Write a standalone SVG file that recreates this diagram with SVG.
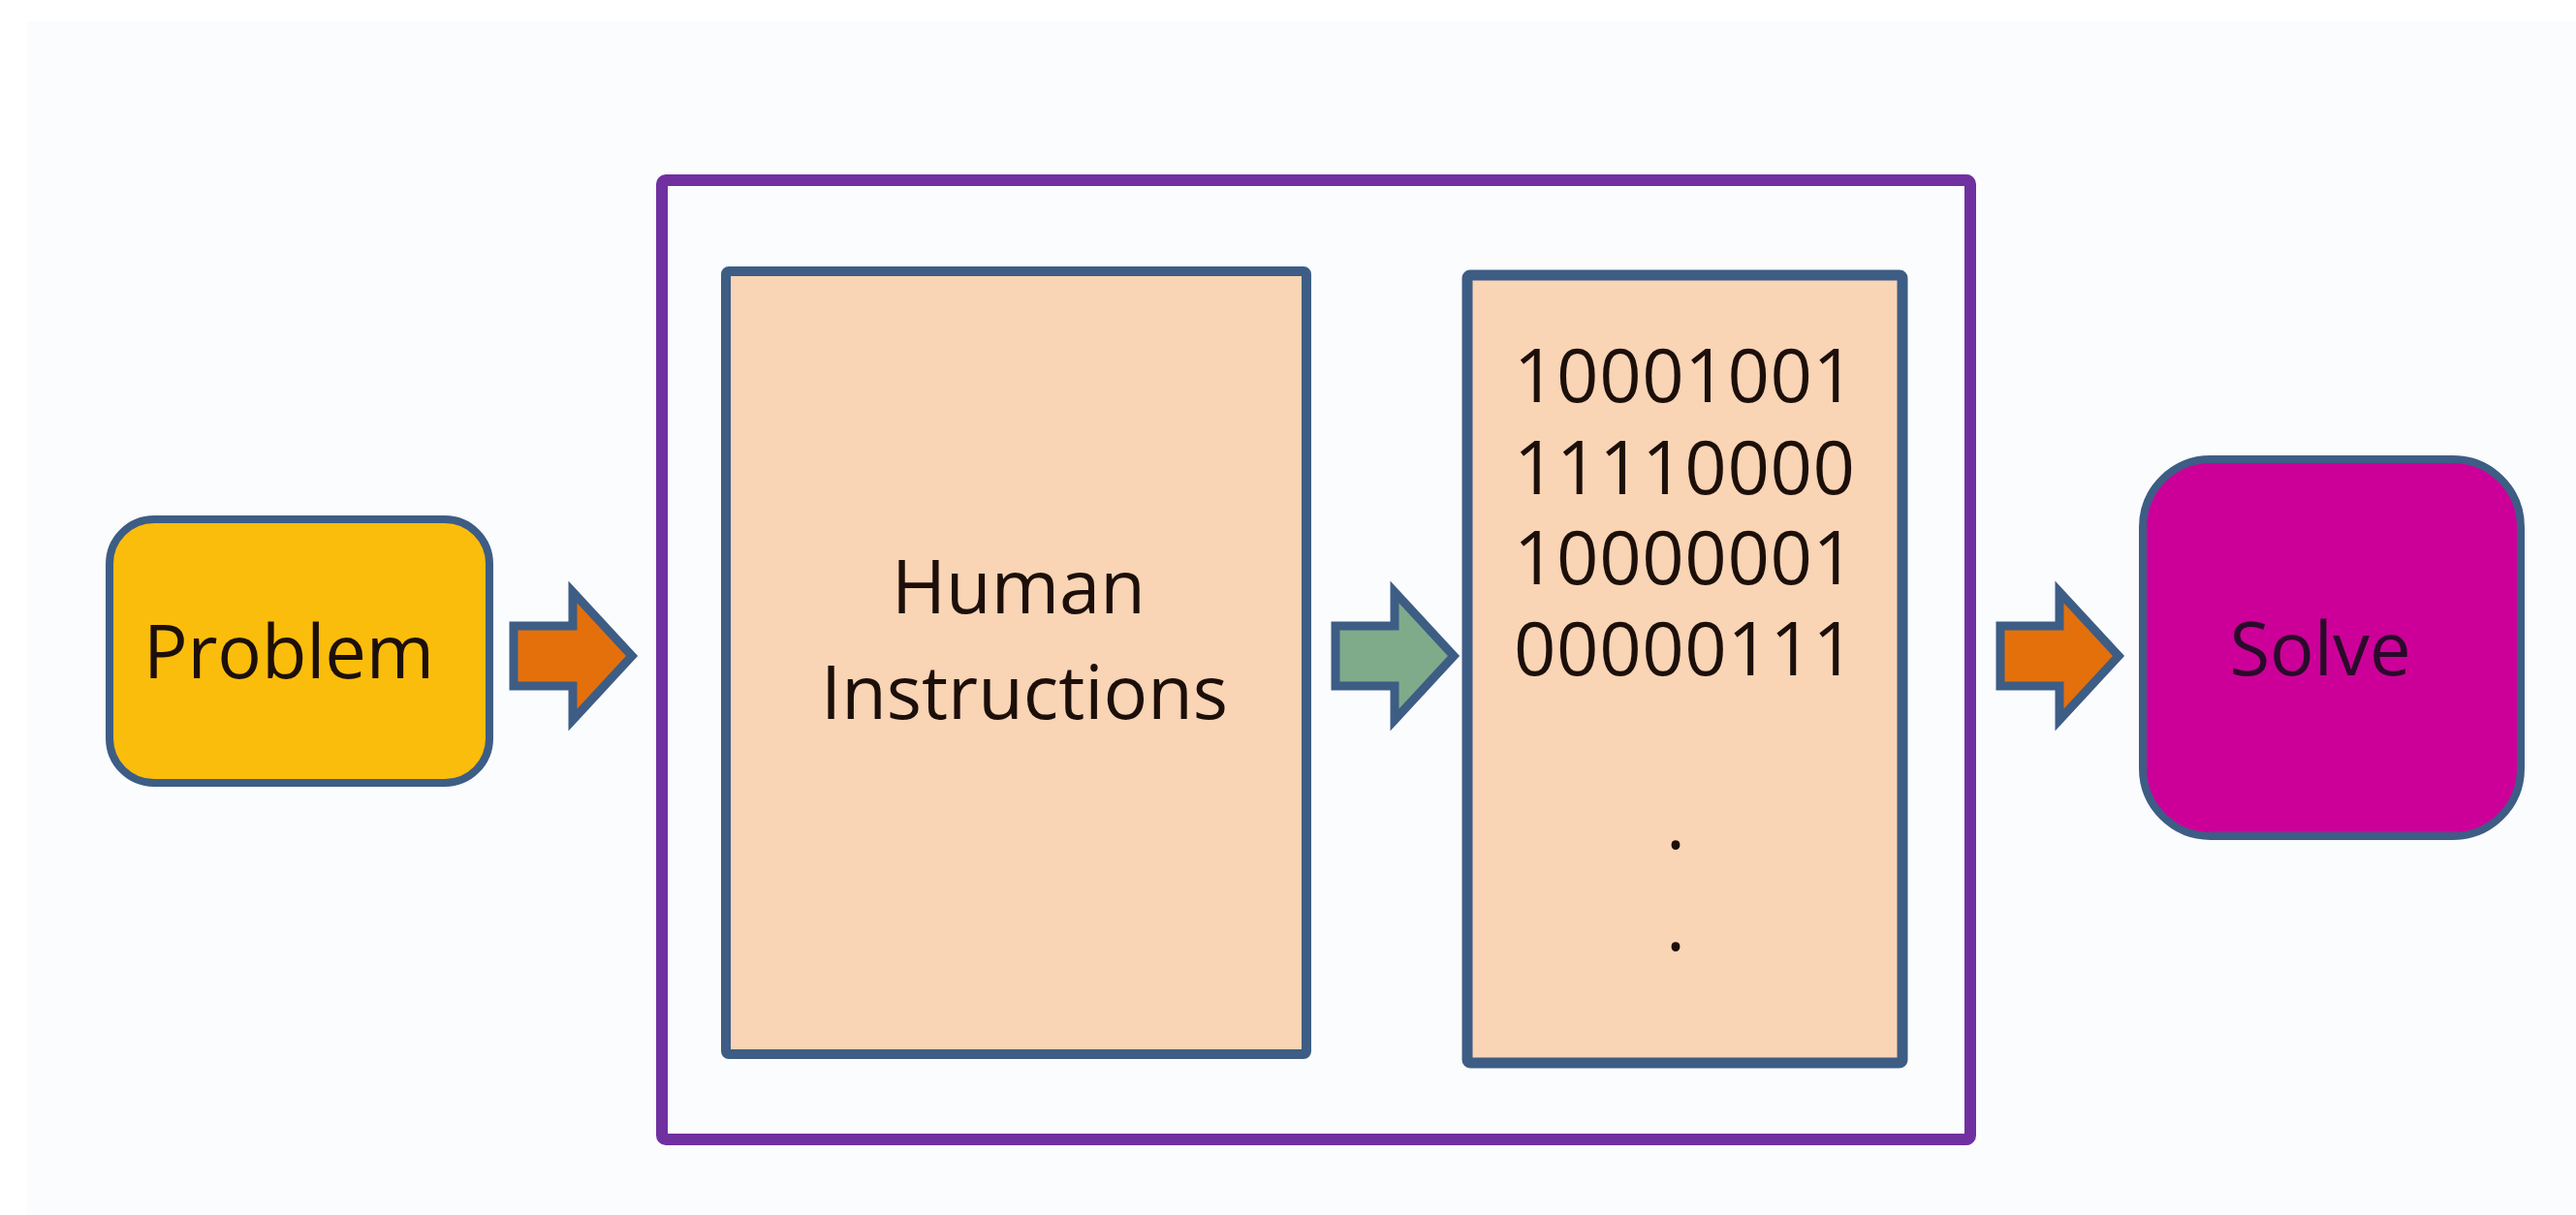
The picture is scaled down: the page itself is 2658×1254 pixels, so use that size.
<svg xmlns="http://www.w3.org/2000/svg" width="2658" height="1254" viewBox="0 0 2658 1254">
<style>
.bg{fill:#fafcfd}
.node{stroke:#3d5d85}
.lbl{font-family:"Open Sans","Noto Sans","DejaVu Sans",sans-serif;font-size:76px;fill:#1c0f0a;text-anchor:middle}
.arrow{stroke:#3d5d85;stroke-width:9;stroke-linejoin:miter}
</style>
<defs>
<path id="blockArrow" d="M4,-31 H65 V-66 L126,0 L65,66 V31 H4 Z"/>
</defs>
<rect x="0" y="0" width="2658" height="1254" fill="#ffffff"/>
<rect class="bg" x="27" y="22" width="2631" height="1232"/>
<g id="container">
<rect x="683" y="186" width="1350" height="990" rx="4" fill="#fbfcfe" stroke="#7030a0" stroke-width="12"/>
</g>
<g id="problem">
<rect class="node" x="113" y="536" width="392" height="272" rx="46" fill="#fbbd0b" stroke-width="8"/>
<text class="lbl" x="298" y="700" textLength="300">Problem</text>
</g>
<g id="human-instructions">
<rect class="node" x="749" y="280" width="599" height="808" rx="3" fill="#f9d4b5" stroke-width="10"/>
<text class="lbl" x="1051" y="633">Human</text>
<text class="lbl" x="1057" y="742">Instructions</text>
</g>
<g id="machine-code">
<rect class="node" x="1514" y="284" width="449" height="813" rx="3" fill="#f9d4b5" stroke-width="11"/>
<text class="lbl" x="1738" y="415" textLength="352">10001001</text>
<text class="lbl" x="1738" y="510" textLength="352">11110000</text>
<text class="lbl" x="1738" y="603" textLength="352">10000001</text>
<text class="lbl" x="1738" y="697" textLength="352">00000111</text>
<text class="lbl" x="1729" y="876">.</text>
<text class="lbl" x="1729" y="981">.</text>
</g>
<g id="solve">
<rect class="node" x="2211" y="474" width="390" height="389" rx="70" fill="#cc0099" stroke-width="8"/>
<text class="lbl" x="2394" y="697" style="fill:#2a0a2a">Solve</text>
</g>
<g id="connectors">
<use href="#blockArrow" class="arrow" fill="#e4700c" transform="translate(526,677)"/>
<use href="#blockArrow" class="arrow" fill="#7fab8a" transform="translate(1374,677)"/>
<use href="#blockArrow" class="arrow" fill="#e4700c" transform="translate(2060,677)"/>
</g>
</svg>
